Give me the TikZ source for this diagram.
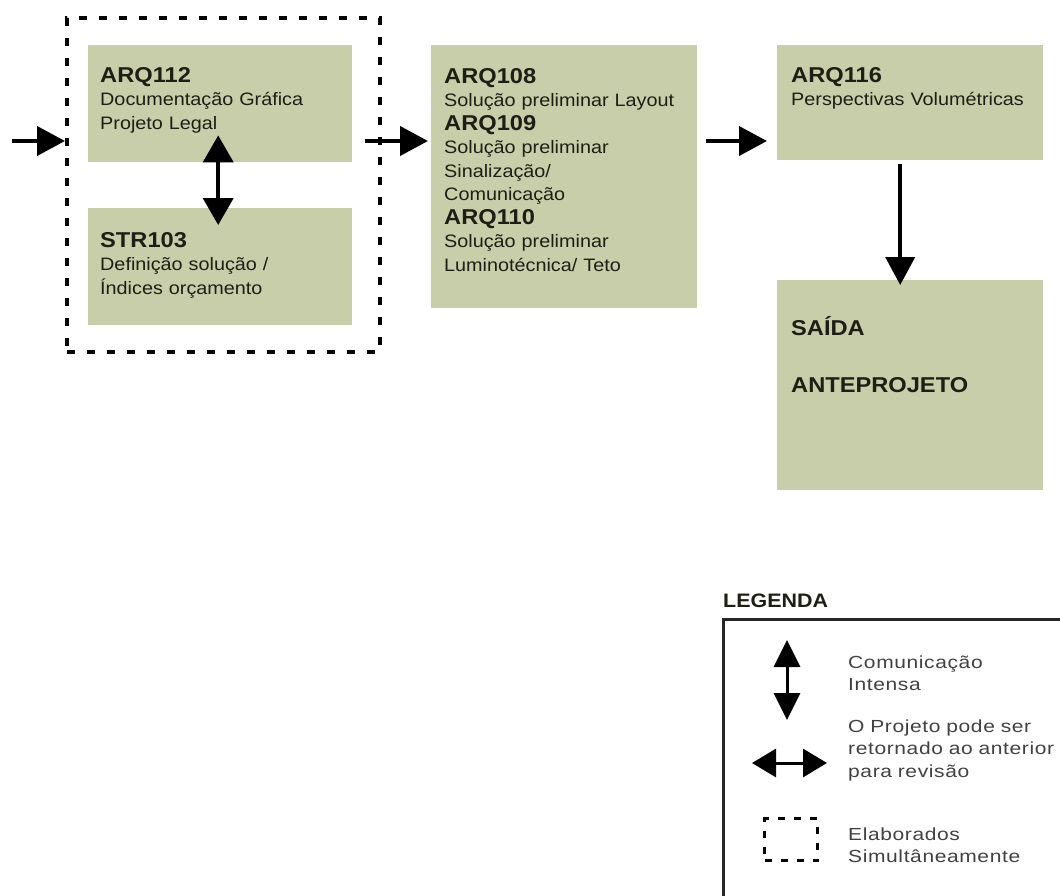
\documentclass[tikz,border=0pt]{standalone}
\usepackage{fontspec}
\setmainfont{Liberation Sans}[FakeStretch=1.1]
\newfontfamily\legfont{Liberation Sans}[FakeStretch=1.2, LetterSpace=3.5]
\usepackage{tikz}
\usetikzlibrary{arrows.meta, positioning}
\definecolor{boxgreen}{RGB}{200,206,170}
\definecolor{textdark}{RGB}{30,30,20}
\definecolor{legtext}{RGB}{65,65,65}
\newcommand{\code}[1]{{\bfseries\fontsize{21.5}{23.5}\selectfont #1}}
\tikzstyle{blk} = [rectangle, fill = boxgreen, inner sep = 0, anchor = north
  west]
\tikzstyle{txt} = [
  anchor = base west, inner sep = 0,
  text width = 255, align = left, text = textdark,
  font = \fontsize{18}{23.5}\selectfont
]
\tikzstyle{grp} = [rectangle, draw = black, line width = 3.5, dash pattern =
  on 8pt off 12pt, anchor = north west, minimum width = 313, minimum height = 334]
\tikzstyle{flow} = [line width = 4, -{Triangle[length = 28pt, width = 29pt]}]
\tikzstyle{comm} = [line width = 4, {Triangle[length = 27pt, width = 30pt]}-{Triangle[length = 27pt, width = 30pt]}]
\tikzstyle{legtxt} = [
  anchor = base west, inner sep = 0,
  text width = 240, align = left, text = legtext,
  font = \legfont\fontsize{17.5}{22.5}\selectfont
]

\begin{document}
\begin{tikzpicture}[x = 1pt, y = -1pt]
      \useasboundingbox (0, 0) rectangle (1060, 895);
      % grupo simultaneo
      \node [grp] (grp) at (65, 16) {};
      \node [blk, minimum width = 264, minimum height = 117] (box-arq112) at (88, 45) {};
      \node [txt] (txt-arq112) at ([xshift = 12pt, yshift = -37pt]box-arq112.north west)
        {\code{ARQ112}\\Documentação Gráfica\\Projeto Legal};
      \node [blk, minimum width = 264, minimum height = 117] (box-str103) at (88, 208) {};
      \node [txt] (txt-str103) at ([xshift = 12pt, yshift = -39pt]box-str103.north west)
        {\code{STR103}\\Definição solução /\\Índices orçamento};
      % preliminar
      \node [blk, minimum width = 266, minimum height = 263] (box-mid) at (431, 45) {};
      \node [txt] (txt-mid) at ([xshift = 13pt, yshift = -38pt]box-mid.north west)
        {\code{ARQ108}\\Solução preliminar Layout\\\code{ARQ109}\\Solução preliminar\\
         Sinalização/\\Comunicação\\\code{ARQ110}\\Solução preliminar\\Luminotécnica/ Teto};
      % perspectivas
      \node [blk, minimum width = 266, minimum height = 115] (box-arq116) at (777, 45) {};
      \node [txt] (txt-arq116) at ([xshift = 14pt, yshift = -37pt]box-arq116.north west)
        {\code{ARQ116}\\Perspectivas Volumétricas};
      % saida
      \node [blk, minimum width = 266, minimum height = 210] (box-saida) at (777, 280) {};
      \node [txt] (txt-saida) at ([xshift = 14pt, yshift = -55pt]box-saida.north west)
        {\code{SAÍDA}\\[33.5pt]\code{ANTEPROJETO}};

      \coordinate (in) at (12, 141);
      \coordinate (out) at (365, 141);
      \draw [flow] (in) -- (grp.west |- in);
      \draw [flow, shorten >= 3pt] (out) -- (box-mid.west |- out);
      \draw [flow, shorten <= 9pt, shorten >= 10pt] (box-mid.east |- out) --
      (box-arq116.west |- out);
      \draw [flow, shorten <= 4pt, shorten >= -5pt] ([xshift = -10pt]box-arq116.south) --
      ([xshift = -10pt]box-saida.north);
      \draw [comm] ([xshift = -2pt, yshift = 27pt]box-arq112.south) --
      ([xshift = -2pt, yshift = -17pt]box-str103.north);

      % legenda
      \node [anchor = base west, inner sep = 0, text = textdark,
        font = \bfseries\fontsize{19.5}{20}\selectfont] (leg-title) at (723, 607) {LEGENDA};
      \coordinate (leg-nw) at (723, 619);
      \draw [line width = 3, black!85] ([xshift = 340pt]leg-nw) -- (leg-nw) --
      ([yshift = -280pt]leg-nw);
      \coordinate (leg-v-a) at (787, 640);
      \coordinate (leg-v-b) at (787, 720);
      \draw [line width = 3, {Triangle[length = 27pt, width = 26pt]}-{Triangle[length = 27pt, width = 26pt]}]
      (leg-v-a) -- (leg-v-b);
      \coordinate (leg-h-a) at (752, 763);
      \coordinate (leg-h-b) at (827, 763);
      \draw [line width = 3, {Triangle[length = 24pt, width = 28pt]}-{Triangle[length = 24pt, width = 28pt]}]
      (leg-h-a) -- (leg-h-b);
      \node [rectangle, draw = black, line width = 3, dash pattern = on 7pt off 9pt,
        anchor = north west, minimum width = 53, minimum height = 42] (leg-dash) at (763, 817) {};
      \node [legtxt] (leg-comm) at (848, 668) {Comunicação\\Intensa};
      \node [legtxt] (leg-flow) at (848, 732)
        {O Projeto pode ser\\retornado ao anterior\\para revisão};
      \node [legtxt] (leg-grp) at (848, 840) {Elaborados\\Simultâneamente};
    \end{tikzpicture}
\end{document}
